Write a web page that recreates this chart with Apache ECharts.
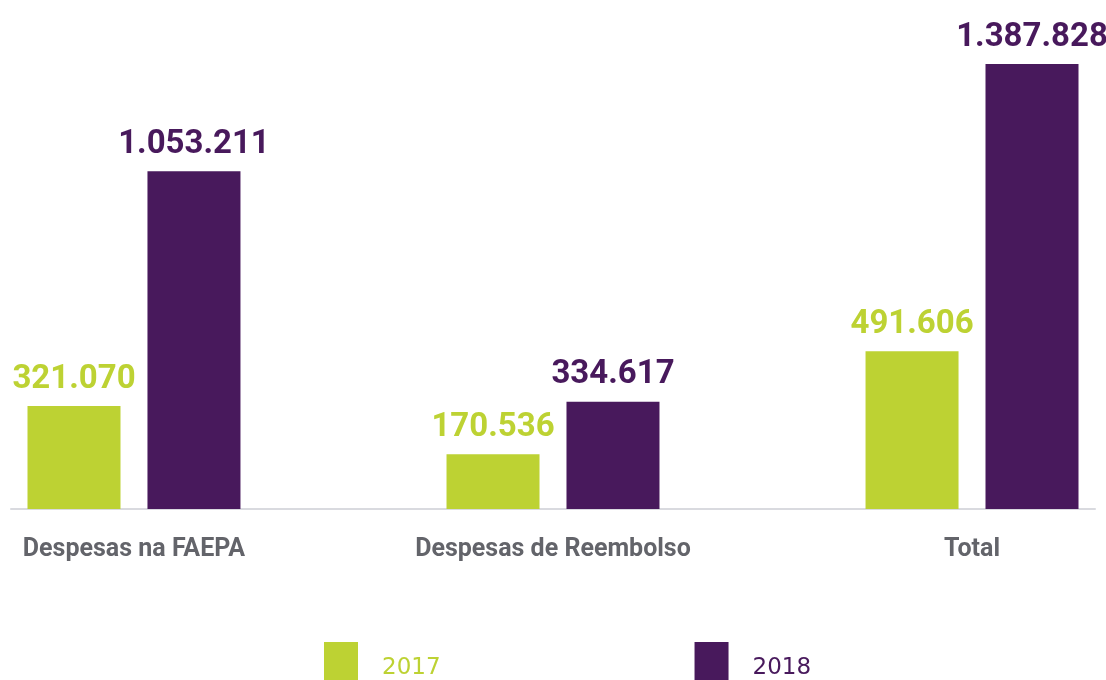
<!DOCTYPE html>
<html>
<head>
<meta charset="utf-8">
<title>Despesas 2017 x 2018</title>
<script src="https://cdn.jsdelivr.net/npm/echarts@6/dist/echarts.min.js"></script>
<style>
  html, body { margin: 0; padding: 0; background: #ffffff; }
  #chart { width: 1106px; height: 680px; }
</style>
</head>
<body>
<div id="chart"></div>
<script>
// Expense categories and yearly totals (R$)
var categories = ['Despesas na FAEPA', 'Despesas de Reembolso', 'Total'];
var years = ['2017', '2018'];
var values2017 = [321070, 170536, 491606];
var values2018 = [1053211, 334617, 1387828];

var GREEN = '#bdd233';
var PURPLE = '#48195c';

// Brazilian thousands separator: 1387828 -> "1.387.828"
function fmt(n) {
  return String(n).replace(/\B(?=(\d{3})+(?!\d))/g, '.');
}

function toPoints(arr) {
  return arr.map(function (v, i) { return [i, v]; });
}

function barSeries(name, arr, color) {
  return {
    name: name,
    type: 'bar',
    data: toPoints(arr),
    barWidth: 93,
    barGap: '29%',
    itemStyle: { color: color },
    label: {
      show: true,
      position: 'top',
      distance: 10,
      color: color,
      fontFamily: 'Roboto',
      fontWeight: 'bold',
      fontSize: 33,
      formatter: function (p) { return fmt(p.value[1]); }
    }
  };
}

var chart = echarts.init(document.getElementById('chart'), null, { renderer: 'canvas' });
chart.setOption({
  animation: false,
  backgroundColor: '#ffffff',
  grid: { left: 11, right: 11, top: 28, bottom: 171, containLabel: false },
  legend: {
    data: [
      { name: years[0], textStyle: { color: GREEN } },
      { name: years[1], textStyle: { color: PURPLE } }
    ],
    left: 324,
    top: 642,
    padding: 0,
    itemWidth: 34,
    itemHeight: 52,
    itemGap: 254,
    icon: 'rect',
    textStyle: { fontFamily: 'DejaVu Sans', fontSize: 23, padding: [0, 0, 0, 19] }
  },
  xAxis: {
    type: 'value',
    min: -0.2935,
    max: 2.2935,
    splitLine: { show: false },
    axisTick: { show: false },
    axisLine: { show: true, lineStyle: { color: '#d9dadf', width: 2 } },
    axisLabel: {
      customValues: [0, 1, 2],
      margin: 28,
      color: '#63646a',
      fontFamily: 'Roboto',
      fontWeight: 'bold',
      fontSize: 25,
      formatter: function (v) { return categories[Math.round(v)]; }
    }
  },
  yAxis: {
    type: 'value',
    min: 0,
    max: 1500000,
    show: false,
    splitLine: { show: false }
  },
  series: [
    barSeries(years[0], values2017, GREEN),
    barSeries(years[1], values2018, PURPLE)
  ]
});
</script>
</body>
</html>
